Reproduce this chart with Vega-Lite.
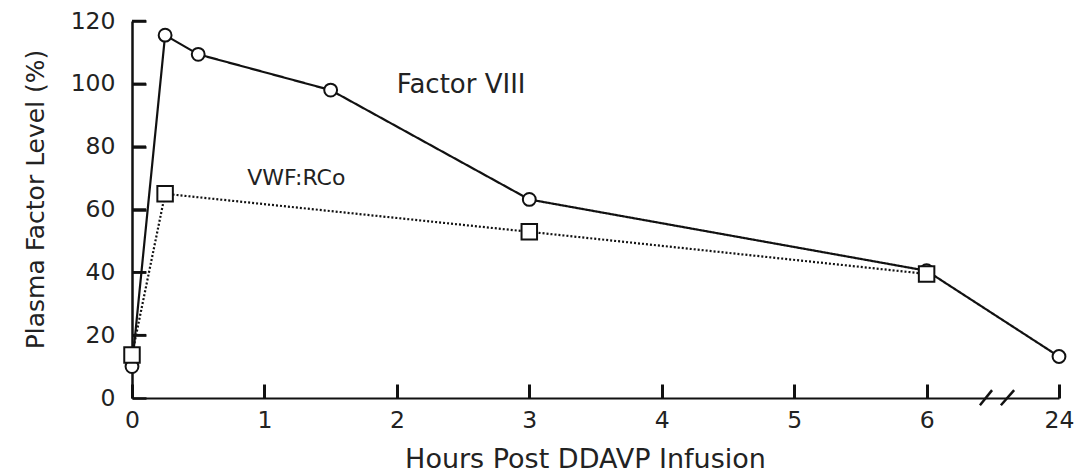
{
  "$schema": "https://vega.github.io/schema/vega-lite/v6.json",
  "autosize": "none",
  "width": 927,
  "height": 377,
  "padding": {"left": 132, "top": 21, "right": 22, "bottom": 78},
  "background": "white",
  "config": {
    "view": {"stroke": null},
    "font": "DejaVu Sans",
    "axis": {"grid": false, "ticks": true, "domainColor": "#111", "tickColor": "#111", "labelColor": "#222", "titleColor": "#222", "labelFont": "DejaVu Sans", "titleFont": "DejaVu Sans", "labelFontWeight": "normal", "titleFontWeight": "normal"}
  },
  "datasets": {
    "levels": [
      {"series": "Factor VIII", "hours": 0, "level": 10},
      {"series": "Factor VIII", "hours": 0.25, "level": 115.5},
      {"series": "Factor VIII", "hours": 0.5, "level": 109.4},
      {"series": "Factor VIII", "hours": 1.5, "level": 98},
      {"series": "Factor VIII", "hours": 3, "level": 63.2},
      {"series": "Factor VIII", "hours": 6, "level": 40.5},
      {"series": "Factor VIII", "hours": 24, "level": 13.2},
      {"series": "VWF:RCo", "hours": 0, "level": 13.7},
      {"series": "VWF:RCo", "hours": 0.25, "level": 65},
      {"series": "VWF:RCo", "hours": 3, "level": 52.9},
      {"series": "VWF:RCo", "hours": 6, "level": 39.5}
    ],
    "labels": [
      {"label": "Factor VIII", "hours": 2.0, "level": 97, "size": 26},
      {"label": "VWF:RCo", "hours": 0.87, "level": 67.8, "size": 22}
    ],
    "yticks": [
      {"level": 20}, {"level": 40}, {"level": 60}, {"level": 80}, {"level": 100}, {"level": 120}
    ],
    "breaks": [
      {"h1": 13.25, "h2": 14.9, "l1": -2.3, "l2": 2.5},
      {"h1": 16.1, "h2": 17.9, "l1": -2.3, "l2": 2.5}
    ]
  },
  "layer": [
    {
      "data": {"name": "levels"},
      "mark": {"type": "line", "color": "#111", "strokeWidth": 2.2},
      "encoding": {
        "x": {
          "field": "hours", "type": "quantitative",
          "scale": {"domain": [0, 6, 24], "range": [0, 794.6, 927], "nice": false, "zero": false},
          "axis": {
            "values": [0, 1, 2, 3, 4, 5, 6, 24],
            "title": "Hours Post DDAVP Infusion",
            "titleFontSize": 27, "titleX": 453, "titleY": 69, "titleBaseline": "alphabetic", "titleAnchor": "middle",
            "labelFontSize": 23.5, "labelPadding": 43, "labelBaseline": "alphabetic",
            "tickSize": -14, "tickWidth": 3, "domainWidth": 2,
            "labelFlush": false
          }
        },
        "y": {
          "field": "level", "type": "quantitative",
          "scale": {"domain": [0, 120], "nice": false},
          "axis": {
            "values": [0, 20, 40, 60, 80, 100, 120],
            "title": "Plasma Factor Level (%)",
            "titleFontSize": 25, "titleAngle": 270, "titleX": -89, "titleY": 178, "titleBaseline": "alphabetic", "titleAlign": "center", "titleAnchor": "middle",
            "labelFontSize": 23.5, "labelPadding": 31,
            "tickSize": -14, "tickWidth": 2.5, "domainWidth": 2.5
          }
        },
        "strokeDash": {
          "field": "series", "type": "nominal",
          "scale": {"domain": ["Factor VIII", "VWF:RCo"], "range": [[1, 0], [2, 2]]},
          "legend": null
        }
      }
    },
    {
      "data": {"name": "yticks"},
      "mark": {"type": "rule", "color": "#111", "strokeWidth": 2.5},
      "encoding": {
        "y": {"field": "level", "type": "quantitative"},
        "x": {"datum": 0},
        "x2": {"datum": 0.106}
      }
    },
    {
      "data": {"name": "levels"},
      "mark": {"type": "point", "filled": false, "fill": "white", "fillOpacity": 1, "stroke": "#111", "strokeWidth": 2, "opacity": 1},
      "encoding": {
        "x": {"field": "hours", "type": "quantitative"},
        "y": {"field": "level", "type": "quantitative"},
        "shape": {
          "field": "series", "type": "nominal",
          "scale": {"domain": ["Factor VIII", "VWF:RCo"], "range": ["circle", "square"]},
          "legend": null
        },
        "size": {
          "field": "series", "type": "nominal",
          "scale": {"domain": ["Factor VIII", "VWF:RCo"], "range": [165, 240]},
          "legend": null
        }
      }
    },
    {
      "data": {"name": "labels"},
      "mark": {"type": "text", "align": "left", "baseline": "alphabetic", "color": "#222", "font": "DejaVu Sans"},
      "encoding": {
        "x": {"field": "hours", "type": "quantitative"},
        "y": {"field": "level", "type": "quantitative"},
        "text": {"field": "label"},
        "size": {"field": "size", "type": "quantitative", "scale": null, "legend": null}
      }
    },
    {
      "data": {"name": "breaks"},
      "mark": {"type": "rule", "color": "#111", "strokeWidth": 2.5, "clip": false},
      "encoding": {
        "x": {"field": "h1", "type": "quantitative"},
        "x2": {"field": "h2"},
        "y": {"field": "l1", "type": "quantitative"},
        "y2": {"field": "l2"}
      }
    }
  ]
}
